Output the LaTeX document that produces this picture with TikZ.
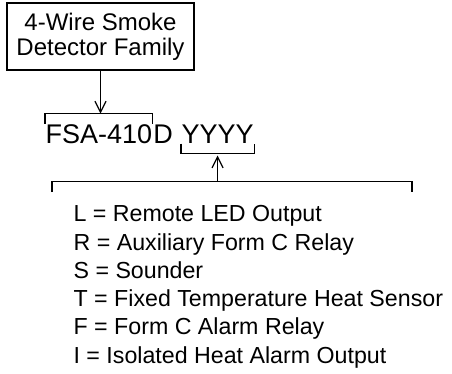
\documentclass[tikz,border=0pt]{standalone}
\usepackage{fontspec}
\setmainfont{Liberation Sans}
\usetikzlibrary{arrows.meta,positioning}

\begin{document}
\begin{tikzpicture}[x=1pt, y=-1pt, line width=1.2pt, >={Straight Barb[length=11pt,width=11pt]}, fam/.style={draw, align=center, minimum width=187pt, minimum height=67pt, inner sep=0pt, font=\fontsize{24}{25}\selectfont}, code/.style={inner sep=0pt, anchor=base west, font=\fontsize{27}{30}\selectfont}, opt/.style={inner sep=0pt, anchor=base west, font=\fontsize{23.2}{28}\selectfont}]
	\useasboundingbox (0,0) rectangle (452,373);
	\node[fam] (box) at (100.5,36.5) {4-Wire Smoke\\Detector Family};
	\node[code] (fsa) at (45,143) {FSA-410};
	\node[code] (d) at (fsa.base east) {D};
	\node[code] (yy) at ([xshift=7.5pt]d.base east) {YYYY};
	\draw (fsa.north west) -- ++(0,-10) -| (fsa.north east);
	\draw (yy.south west) -- ++(0,10) -| (yy.south east);
	\coordinate (top) at ([yshift=10pt]fsa.north);
	\coordinate (ybr) at ([yshift=-12pt]yy.south);
	\draw[->] (box.south) -- (box.south |- top);
	\foreach \t [count=\i] in {L = Remote LED Output, R = Auxiliary Form C Relay, S = Sounder, T = Fixed Temperature Heat Sensor, F = Form C Alarm Relay, I = Isolated Heat Alarm Output} {\node[opt] (it\i) at (73,193.4+28.3*\i) {\t};}
	\coordinate (hub) at (ybr |- 0,181.7);
	\draw (52,192) -- (52,181.7) -- (412,181.7) -- (412,192);
	\draw[->] (hub) -- (ybr);
\end{tikzpicture}
\end{document}
